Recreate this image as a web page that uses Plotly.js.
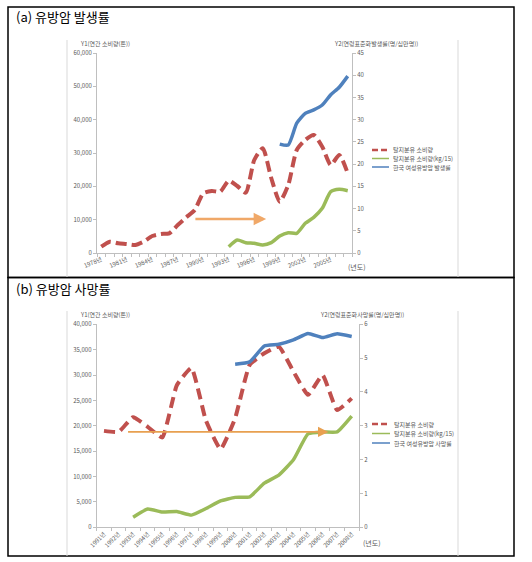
<!DOCTYPE html>
<html><head><meta charset="utf-8">
<script src="https://cdn.plot.ly/plotly-3.0.1.min.js"></script>
<style>html,body{margin:0;padding:0;background:#fff}#chart{width:532px;height:562px}</style>
</head><body><div id="chart"></div>
<script>
// ---- text ----
const panelTitles = ['(a) 유방암 발생률', '(b) 유방암 사망률'];
const seriesNamesA = ['탈지분유 소비량', '탈지분유 소비량(kg/15)', '한국 여성유방암 발생률'];
const seriesNamesB = ['탈지분유 소비량', '탈지분유 소비량(kg/15)', '한국 여성유방암 사망률'];
const y1Titles = ['Y1(연간 소비량(톤))', 'Y1(연간 소비량(톤))'];
const y2Titles = ['Y2(연령표준화발생률(명/십만명))', 'Y2(연령표준화사망률(명/십만명))'];
const xUnitLabel = '(년도)';

// ---- panel (a) data ----
const yearsA = [1978,1979,1980,1981,1982,1983,1984,1985,1986,1987,1988,1989,1990,1991,1992,1993,1994,1995,1996,1997,1998,1999,2000,2001,2002,2003,2004,2005,2006,2007];
const consumptionA = [1900,3400,2900,2700,2400,3400,5100,5700,5900,8400,10700,12900,17900,18600,18400,21700,20100,18100,27900,31400,22500,15400,20400,30900,33900,35400,31900,26400,29400,23900];
const perCapitaYearsA = [1993,1994,1995,1996,1997,1998,1999,2000,2001,2002,2003,2004,2005,2006,2007];
const perCapitaA = [1900,3900,3100,2900,2400,3100,5100,6100,5900,8900,10700,13400,18400,19100,18700];
const incidenceYearsA = [1999,2000,2001,2002,2003,2004,2005,2006,2007];
const incidenceA = [24.5,24.3,29.2,31.4,32.2,33.3,35.6,37.3,39.8];
const tickYearsA = [1978,1981,1984,1987,1990,1993,1996,1999,2002,2005];
const trendArrowA = {fromYear: 1988.9, toYear: 1997.4, value: 10200};

// ---- panel (b) data ----
const yearsB = [1991,1992,1993,1994,1995,1996,1997,1998,1999,2000,2001,2002,2003,2004,2005,2006,2007,2008];
const consumptionB = [19000,18800,21700,19800,17700,28000,31400,21000,15400,21500,32000,34300,35600,30700,26100,30000,23100,25400];
const perCapitaYearsB = [1993,1994,1995,1996,1997,1998,1999,2000,2001,2002,2003,2004,2005,2006,2007,2008];
const perCapitaB = [2000,3600,3000,3100,2400,3700,5200,5900,6000,8700,10300,13300,18400,18800,18800,21900];
const mortalityYearsB = [2000,2001,2002,2003,2004,2005,2006,2007,2008];
const mortalityB = [4.82,4.89,5.36,5.41,5.54,5.73,5.61,5.72,5.64];
const trendArrowB = {fromYear: 1992.55, toYear: 2006.4, value: 18800};

// ---- style ----
const RED = '#C0504D', GREEN = '#9BBB59', BLUE = '#4F81BD', ORANGE = '#F0A868';
const AXIS = '#BFBFBF', LABEL = '#595959';
const FONT = '"Noto Sans CJK KR", "Noto Sans", sans-serif';
const W = 532, H = 562;
const px = v => v / W, py = v => 1 - v / H;

const traces = [
  {x: yearsA, y: consumptionA, xaxis: 'x', yaxis: 'y', mode: 'lines', name: seriesNamesA[0],
   line: {color: RED, width: 4, dash: '11px,5px', shape: 'spline', smoothing: 0.6}},
  {x: perCapitaYearsA, y: perCapitaA, xaxis: 'x', yaxis: 'y', mode: 'lines', name: seriesNamesA[1],
   line: {color: GREEN, width: 3.5, shape: 'spline', smoothing: 0.6}},
  {x: incidenceYearsA, y: incidenceA, xaxis: 'x', yaxis: 'y2', mode: 'lines', name: seriesNamesA[2],
   line: {color: BLUE, width: 3.5, shape: 'spline', smoothing: 0.6}},
  {x: yearsB, y: consumptionB, xaxis: 'x2', yaxis: 'y3', mode: 'lines', name: seriesNamesB[0],
   line: {color: RED, width: 4, dash: '11px,6px', shape: 'spline', smoothing: 0.4}},
  {x: perCapitaYearsB, y: perCapitaB, xaxis: 'x2', yaxis: 'y3', mode: 'lines', name: seriesNamesB[1],
   line: {color: GREEN, width: 3.5, shape: 'spline', smoothing: 0.4}},
  {x: mortalityYearsB, y: mortalityB, xaxis: 'x2', yaxis: 'y4', mode: 'lines', name: seriesNamesB[2],
   line: {color: BLUE, width: 3.5, shape: 'spline', smoothing: 0.4}}
];

const tickFont = {family: FONT, size: 6, color: LABEL};
const baseY = {showline: true, linecolor: AXIS, linewidth: 1, ticks: 'outside', ticklen: 3, tickcolor: AXIS,
  showgrid: false, zeroline: false, tickfont: tickFont, fixedrange: true};
const baseX = {showline: true, linecolor: AXIS, linewidth: 1, ticks: '', showgrid: false, zeroline: false,
  tickfont: tickFont, fixedrange: true, tickmode: 'array',
  minor: {ticks: 'outside', ticklen: 3, tickcolor: AXIS, tickmode: 'linear', dtick: 1, showgrid: false}};

const layout = {
  width: W, height: H, margin: {l: 0, r: 0, t: 0, b: 0},
  paper_bgcolor: '#fff', plot_bgcolor: 'rgba(0,0,0,0)', showlegend: false,
  font: {family: FONT},
  xaxis: Object.assign({}, baseX, {domain: [px(97), px(352)], anchor: 'y', range: [1977.5, 2007.5],
    tickvals: tickYearsA, ticktext: tickYearsA.map(y => y + '년'), tickangle: -22,
    minor: Object.assign({}, baseX.minor, {tick0: 1977.5})}),
  yaxis: Object.assign({}, baseY, {domain: [py(253), py(53)], anchor: 'x', range: [0, 60000], dtick: 10000, tickformat: ',d'}),
  yaxis2: Object.assign({}, baseY, {overlaying: 'y', side: 'right', anchor: 'x', range: [0, 45], dtick: 5}),
  xaxis2: Object.assign({}, baseX, {domain: [px(96.7), px(359)], anchor: 'y3', range: [1990.5, 2008.5],
    tickvals: yearsB, ticktext: yearsB.map(y => y + '년'), tickangle: -45,
    minor: Object.assign({}, baseX.minor, {tick0: 1990.5})}),
  yaxis3: Object.assign({}, baseY, {domain: [py(527.3), py(324.3)], anchor: 'x2', range: [0, 40000], dtick: 5000, tickformat: ',d'}),
  yaxis4: Object.assign({}, baseY, {overlaying: 'y3', side: 'right', anchor: 'x2', range: [0, 6], dtick: 1}),
  shapes: [
    {type: 'rect', xref: 'paper', yref: 'paper', x0: px(8), x1: px(514), y0: py(277.5), y1: py(7), line: {color: '#000', width: 1.5}},
    {type: 'rect', xref: 'paper', yref: 'paper', x0: px(8), x1: px(514), y0: py(556), y1: py(277.5), line: {color: '#000', width: 1.5}},
    {type: 'line', xref: 'paper', yref: 'paper', x0: px(67), x1: px(67), y0: py(40), y1: py(277), line: {color: '#D9D9D9', width: 1}},
    {type: 'line', xref: 'paper', yref: 'paper', x0: px(458), x1: px(458), y0: py(40), y1: py(277), line: {color: '#D9D9D9', width: 1}},
    {type: 'line', xref: 'paper', yref: 'paper', x0: px(67), x1: px(67), y0: py(311), y1: py(556), line: {color: '#D9D9D9', width: 1}},
    {type: 'line', xref: 'paper', yref: 'paper', x0: px(458), x1: px(458), y0: py(311), y1: py(556), line: {color: '#D9D9D9', width: 1}}
  ],
  annotations: []
};

// panel titles
[[panelTitles[0], 14, 17], [panelTitles[1], 14, 288]].forEach(([t, x, y]) => {
  layout.annotations.push({text: t, xref: 'paper', yref: 'paper', x: px(x), y: py(y), xanchor: 'left', yanchor: 'middle',
    showarrow: false, font: {family: FONT, size: 13, color: '#000'}});
});
// axis titles
const smallText = (t, x, y, anchor) => ({text: t, xref: 'paper', yref: 'paper', x: px(x), y: py(y), xanchor: anchor || 'left',
  yanchor: 'middle', showarrow: false, font: {family: FONT, size: 6, color: LABEL}});
layout.annotations.push(smallText(y1Titles[0], 78, 43));
layout.annotations.push(smallText(y2Titles[0], 332, 43));
layout.annotations.push(smallText(y1Titles[1], 78, 314));
layout.annotations.push(smallText(y2Titles[1], 318, 314));
layout.annotations.push(Object.assign(smallText(xUnitLabel, 346, 267), {font: {family: FONT, size: 7, color: LABEL}}));
layout.annotations.push(Object.assign(smallText(xUnitLabel, 361, 543), {font: {family: FONT, size: 7, color: LABEL}}));

// legends (drawn as samples + text)
function addLegend(names, rows, x0, x1, tx) {
  const styles = [{color: RED, width: 2.5, dash: '6px,3px'}, {color: GREEN, width: 1.5}, {color: BLUE, width: 1.5}];
  names.forEach((n, i) => {
    layout.shapes.push({type: 'line', xref: 'paper', yref: 'paper', x0: px(x0), x1: px(x1), y0: py(rows[i]), y1: py(rows[i]), line: styles[i]});
    layout.annotations.push(smallText(n, tx, rows[i]));
  });
}
addLegend(seriesNamesA, [150, 158.5, 167], 372, 389, 391);
addLegend(seriesNamesB, [424, 433.5, 443], 372, 390, 392);

// trend arrows
layout.annotations.push({x: trendArrowA.toYear, y: trendArrowA.value, ax: trendArrowA.fromYear, ay: trendArrowA.value,
  xref: 'x', yref: 'y', axref: 'x', ayref: 'y', text: '', showarrow: true, arrowhead: 2, arrowsize: 1, arrowwidth: 2.5, arrowcolor: ORANGE});
layout.annotations.push({x: trendArrowB.toYear, y: trendArrowB.value, ax: trendArrowB.fromYear, ay: trendArrowB.value,
  xref: 'x2', yref: 'y3', axref: 'x2', ayref: 'y3', text: '', showarrow: true, arrowhead: 2, arrowsize: 1.3, arrowwidth: 1.6, arrowcolor: '#E8A050'});

Plotly.newPlot('chart', traces, layout, {staticPlot: true, displayModeBar: false});
</script>
</body></html>
